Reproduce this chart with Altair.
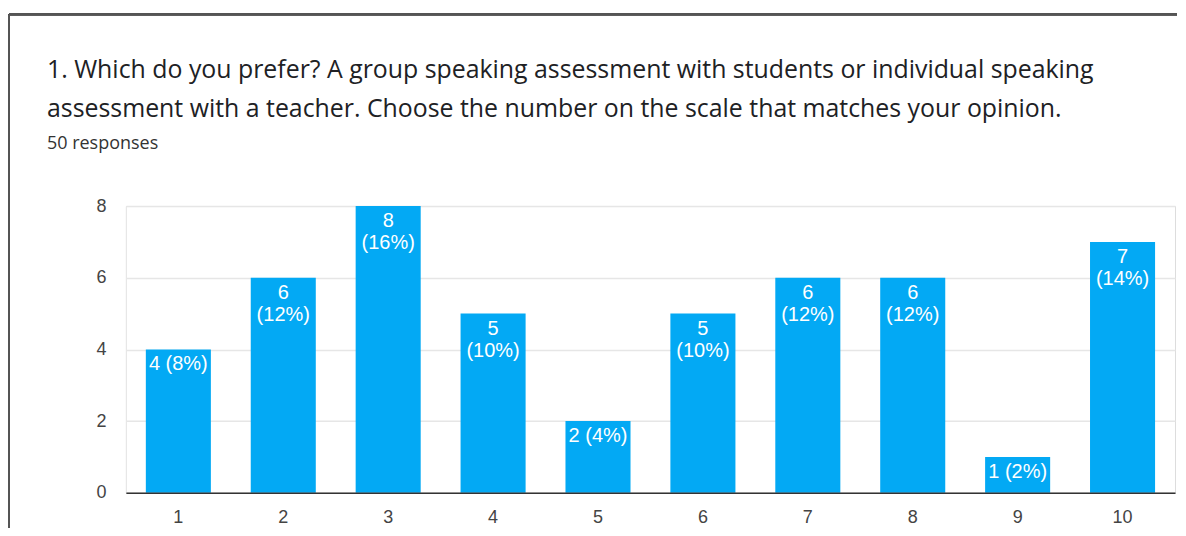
import altair as alt
import pandas as pd

scale_points = ["1", "2", "3", "4", "5", "6", "7", "8", "9", "10"]
counts = [4, 6, 8, 5, 2, 5, 6, 6, 1, 7]
total_responses = 50
y_ticks = [0, 1, 2, 3, 4, 5, 6, 7, 8]

title_lines = [
    "1. Which do you prefer? A group speaking assessment with students or individual speaking",
    "assessment with a teacher. Choose the number on the scale that matches your opinion.",
]
subtitle_text = "50 responses"

pcts = [round(c * 100 / total_responses) for c in counts]
labels = [f"{c} ({p}%)" if p < 10 else f"{c}\n({p}%)" for c, p in zip(counts, pcts)]

df = pd.DataFrame({"point": scale_points, "count": counts, "label": labels})

W = 1050
H = 287
BAR = "#03A9F4"

x_enc = alt.X(
    "point:N",
    sort=scale_points,
    scale=alt.Scale(paddingInner=0.38, paddingOuter=0.19),
    axis=alt.Axis(
        title=None, labelAngle=0, ticks=False, labelPadding=16,
        labelFont="Liberation Sans", labelFontSize=18, labelColor="#444444",
        domainColor="#333333", domainWidth=1.5, zindex=1, grid=False,
    ),
)
y_enc = alt.Y(
    "count:Q",
    scale=alt.Scale(domain=[0, 8], nice=False),
    axis=alt.Axis(
        title=None, values=y_ticks, ticks=False, labelPadding=20,
        labelExpr="datum.value % 2 == 0 ? datum.label : ''",
        labelFont="Liberation Sans", labelFontSize=18, labelColor="#444444",
        domainColor="#e8e8e8", domainWidth=1,
        gridColor={"condition": {"test": "datum.value % 2 == 0", "value": "#e6e6e6"}, "value": "#f4f4f4"},
        gridWidth=1.5,
    ),
)

bars = alt.Chart(df).mark_bar(color=BAR).encode(x=x_enc, y=y_enc)

text = alt.Chart(df).mark_text(
    color="white", font="Liberation Sans", fontSize=20, baseline="top",
    align="center", dy=5, lineBreak="\n", lineHeight=22,
).encode(x=alt.X("point:N", sort=scale_points), y="count:Q", text="label:N")

frame_left = alt.Chart(df).mark_rule(color="#555555", strokeWidth=2).encode(
    x=alt.value(-117), y=alt.value(-192), y2=alt.value(322)
)
frame_top = alt.Chart(df).mark_rule(color="#555555", strokeWidth=2).encode(
    x=alt.value(-117), x2=alt.value(W + 2), y=alt.value(-192)
)

chart = alt.layer(bars, text, frame_left, frame_top).properties(
    width=W, height=H,
    padding={"left": 0, "top": 5, "right": 0, "bottom": 0},
    title=alt.TitleParams(
        text=title_lines, subtitle=subtitle_text, anchor="start", frame="group",
        dx=-79, offset=-140, font="Open Sans", fontSize=24.9, fontWeight="normal",
        color="#202124", lineHeight=39.5, subtitleFont="Open Sans", subtitleFontSize=18,
        subtitleColor="#333333", subtitlePadding=13,
    ),
).configure_view(stroke=None).configure(background="white")

chart.save("out.html", embed_options={"renderer": "svg", "actions": False})
